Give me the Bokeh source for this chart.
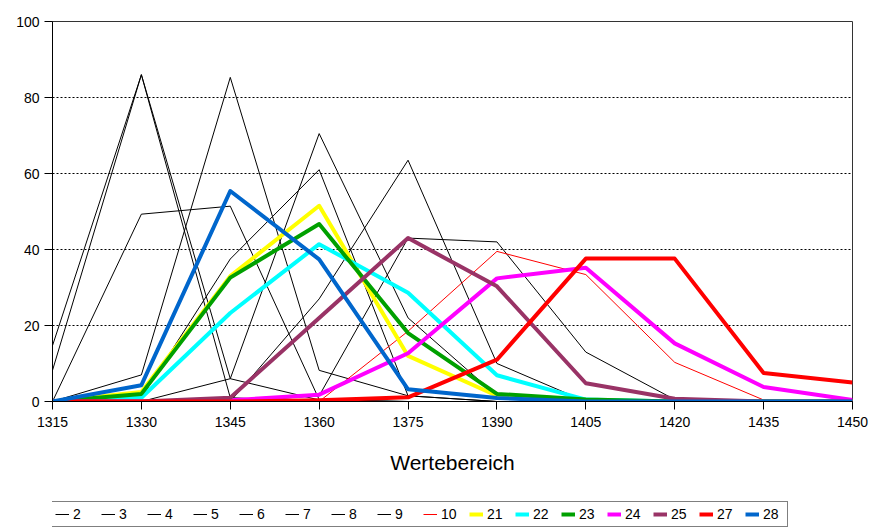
from bokeh.plotting import figure
from bokeh.models import Range1d, Legend, LegendItem, FixedTicker, ColumnDataSource
from bokeh.layouts import column
from bokeh.embed import file_html
from bokeh.resources import INLINE

# ---------------- data ----------------
x_values = [1315, 1330, 1345, 1360, 1375, 1390, 1405, 1420, 1435, 1450]
x_ticks = [1315, 1330, 1345, 1360, 1375, 1390, 1405, 1420, 1435, 1450]
y_ticks = [0, 20, 40, 60, 80, 100]

s2 = [14.7, 86.0, 1.0, 0.0, 0.0, 0.0, 0.0, 0.0, 0.0, 0.0]
s3 = [8.2, 86.0, 6.0, 0.4, 0.0, 0.0, 0.0, 0.0, 0.0, 0.0]
s4 = [0.0, 7.0, 85.3, 8.2, 1.5, 0.0, 0.0, 0.0, 0.0, 0.0]
s5 = [0.0, 49.3, 51.4, 0.5, 0.0, 0.0, 0.0, 0.0, 0.0, 0.0]
s6 = [0.0, 0.0, 6.0, 70.5, 22.0, 1.5, 0.0, 0.0, 0.0, 0.0]
s7 = [0.0, 1.0, 37.5, 61.0, 1.5, 0.0, 0.0, 0.0, 0.0, 0.0]
s8 = [0.0, 0.0, 0.0, 27.0, 63.5, 10.0, 0.0, 0.0, 0.0, 0.0]
s9 = [0.0, 0.0, 0.0, 1.5, 43.0, 42.0, 13.0, 0.5, 0.0, 0.0]
s10 = [0.0, 0.0, 0.0, 0.0, 18.5, 39.5, 33.4, 10.3, 0.4, 0.0]
s21 = [0.0, 2.5, 33.0, 51.5, 12.0, 1.5, 0.0, 0.0, 0.0, 0.0]
s22 = [0.0, 1.0, 23.3, 41.4, 28.6, 6.9, 0.5, 0.0, 0.0, 0.0]
s23 = [0.0, 2.0, 32.6, 46.7, 18.0, 2.0, 0.5, 0.0, 0.0, 0.0]
s24 = [0.0, 0.0, 0.3, 1.8, 12.7, 32.4, 35.2, 15.3, 3.8, 0.4]
s25 = [0.0, 0.0, 1.0, 22.0, 43.0, 30.3, 4.8, 0.7, 0.0, 0.0]
s27 = [0.0, 0.0, 0.0, 0.3, 1.1, 11.0, 37.6, 37.6, 7.5, 5.0]
s28 = [0.0, 4.3, 55.4, 37.4, 3.2, 0.9, 0.0, 0.0, 0.0, 0.0]

series_names = ["2", "3", "4", "5", "6", "7", "8", "9", "10",
                "21", "22", "23", "24", "25", "27", "28"]
series_values = [s2, s3, s4, s5, s6, s7, s8, s9, s10,
                 s21, s22, s23, s24, s25, s27, s28]
series_colors = ["#000000"] * 8 + ["#FF0000", "#FFFF00", "#00FFFF", "#00A000",
                                   "#FF00FF", "#993366", "#FF0000", "#0066CC"]
series_widths = [1] * 9 + [4] * 7

FONT = "Liberation Sans"

# ---------------- main chart ----------------
p = figure(frame_width=800, frame_height=380,
           x_range=Range1d(1315, 1450), y_range=Range1d(0, 100),
           output_backend="svg", toolbar_location=None,
           min_border_left=52, min_border_right=19,
           min_border_top=21, min_border_bottom=95,
           background_fill_color="white", border_fill_color="white")

p.outline_line_color = "#333333"
p.outline_line_width = 1

p.xgrid.visible = False
p.ygrid.ticker = FixedTicker(ticks=y_ticks)
p.ygrid.grid_line_color = "#000000"
p.ygrid.grid_line_dash = "2 2"
p.ygrid.grid_line_width = 1

p.xaxis.ticker = FixedTicker(ticks=x_ticks)
p.yaxis.ticker = FixedTicker(ticks=y_ticks)
for ax in (p.xaxis[0], p.yaxis[0]):
    ax.axis_line_color = "#000000"
    ax.major_tick_line_color = "#000000"
    ax.major_tick_in = 0
    ax.major_tick_out = 8
    ax.minor_tick_line_color = None
    ax.major_label_text_font = FONT
    ax.major_label_text_font_size = "14px"
    ax.major_label_text_color = "#000000"

p.xaxis.major_label_standoff = 7
p.yaxis.major_label_standoff = 5
p.xaxis.axis_label = "Wertebereich"
p.xaxis.axis_label_text_font = FONT
p.xaxis.axis_label_text_font_size = "21px"
p.xaxis.axis_label_text_font_style = "normal"
p.xaxis.axis_label_text_color = "#000000"
p.xaxis.axis_label_standoff = 21

for name, vals, col, w in zip(series_names, series_values, series_colors, series_widths):
    src = ColumnDataSource(data=dict(x=x_values, y=vals))
    p.line("x", "y", source=src, line_color=col, line_width=w, line_join="round")

# ---------------- legend strip ----------------
# series are re-plotted here outside the visible y-range, only to feed the legend
lg = figure(width=871, height=34, x_range=Range1d(1315, 1450), y_range=Range1d(1000, 1001),
            output_backend="svg", toolbar_location=None,
            x_axis_location=None, y_axis_location=None,
            min_border=0, min_border_left=0, min_border_right=0,
            min_border_top=0, min_border_bottom=0,
            background_fill_color="white", border_fill_color="white")
lg.outline_line_color = None
lg.xgrid.visible = False
lg.ygrid.visible = False

items = []
for name, vals, col, w in zip(series_names, series_values, series_colors, series_widths):
    src = ColumnDataSource(data=dict(x=x_values, y=vals))
    r = lg.line("x", "y", source=src, line_color=col, line_width=w)
    items.append(LegendItem(label=name, renderers=[r]))

legend = Legend(items=items, orientation="horizontal", location=(-2, 3),
                border_line_color="#000000", border_line_width=1,
                background_fill_color="white", background_fill_alpha=1.0,
                label_text_font=FONT, label_text_font_size="14px",
                label_text_color="#000000",
                glyph_width=14, glyph_height=16, label_standoff=4,
                label_width=20, spacing=8, padding=4, margin=0)
lg.add_layout(legend, "center")

layout = column(p, lg, spacing=0)
open("out.html", "w").write(file_html(layout, INLINE))
